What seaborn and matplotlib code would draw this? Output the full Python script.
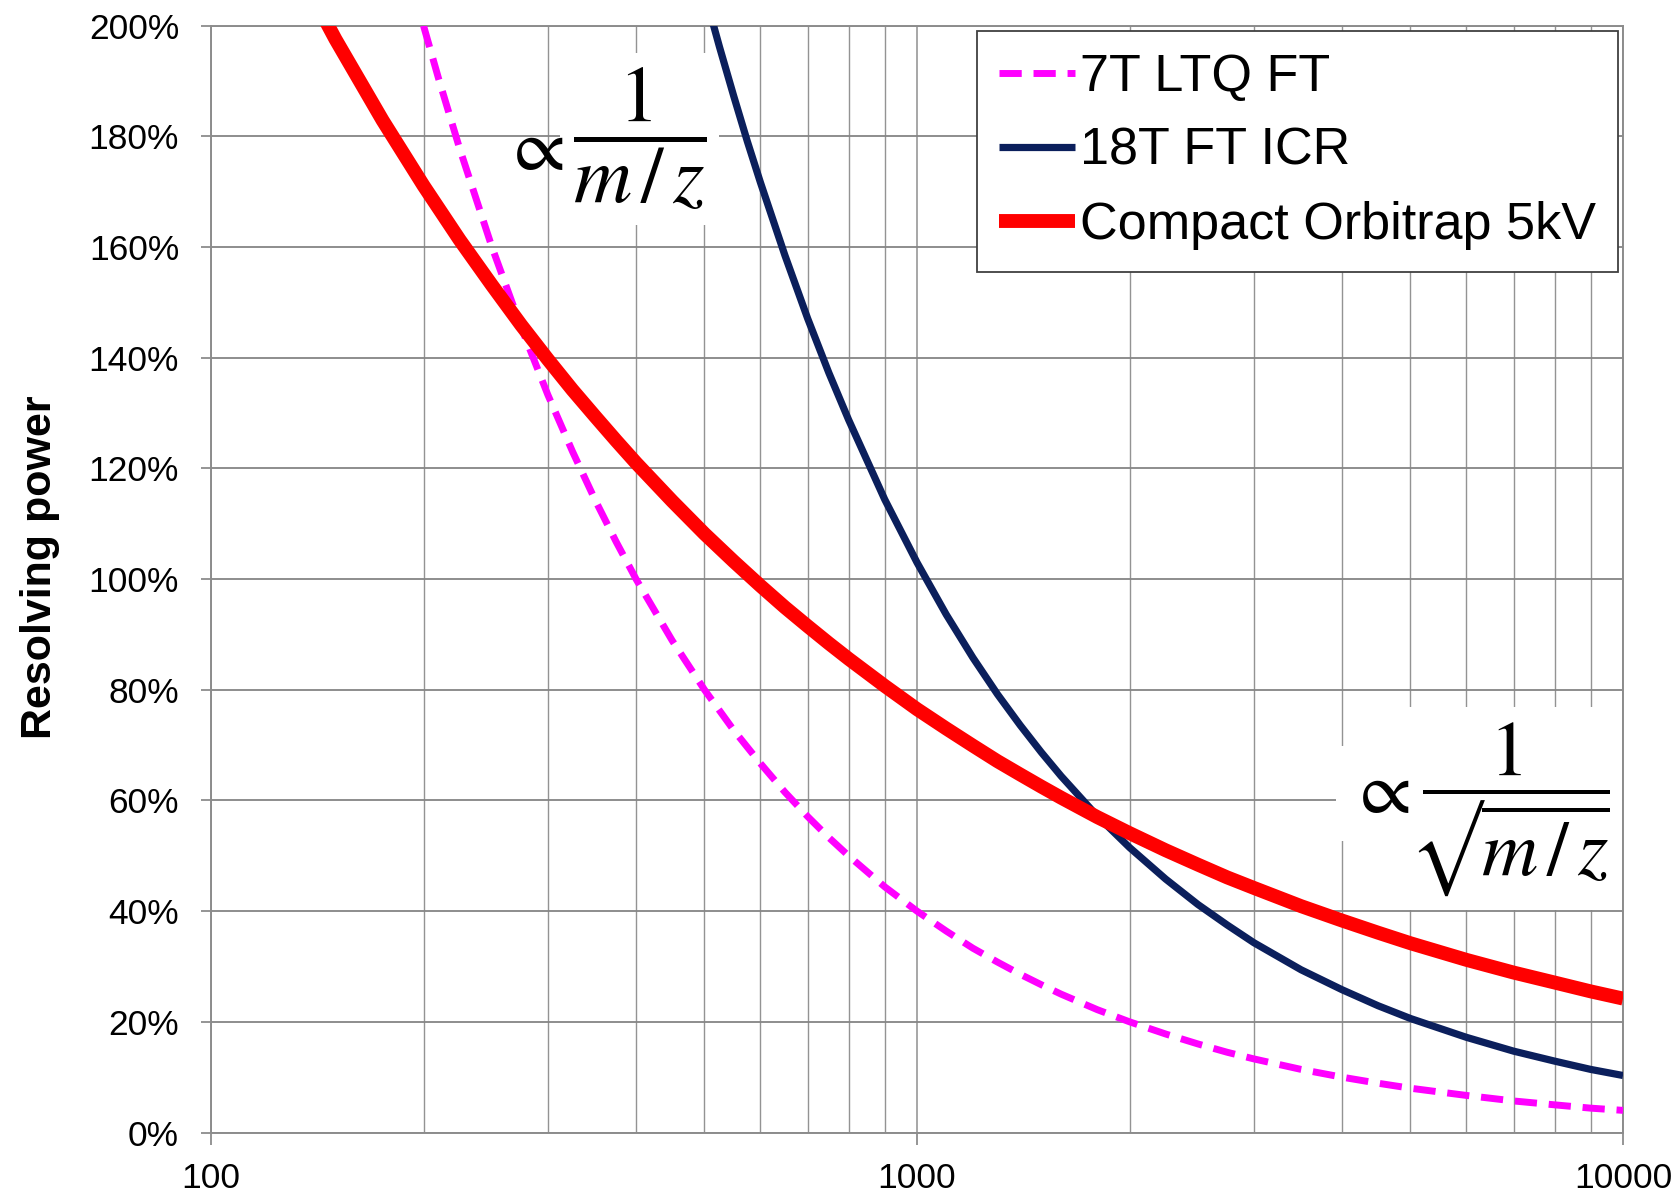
import numpy as np
import pandas as pd
import matplotlib
matplotlib.use('Agg')
import matplotlib.pyplot as plt
import seaborn as sns
from matplotlib.ticker import FixedLocator, FuncFormatter, NullFormatter

# Valeurs (m/z, pouvoir de résolution en %)
mz_7t = [200, 210, 225, 250, 275, 300, 325, 350, 375, 400, 450, 500, 550, 600, 650, 700, 750,
         800, 900, 1000, 1100, 1200, 1300, 1400, 1500, 1600, 1800, 2000, 2250, 2500, 2750,
         3000, 3500, 4000, 4500, 5000, 6000, 7000, 8000, 9000, 10000]
rp_7t = [200, 190.5, 177.8, 160, 145.5, 133.3, 123.1, 114.3, 106.7, 100, 88.9, 80, 72.7, 66.7,
         61.5, 57.1, 53.3, 50, 44.4, 40, 36.4, 33.3, 30.8, 28.6, 26.7, 25, 22.2, 20, 17.8, 16,
         14.5, 13.3, 11.4, 10, 8.9, 8, 6.7, 5.7, 5, 4.4, 4]

mz_18t = [500, 525, 550, 575, 600, 650, 700, 750, 800, 900, 1000, 1100, 1200, 1300, 1400,
          1500, 1600, 1800, 2000, 2250, 2500, 2750, 3000, 3500, 4000, 4500, 5000, 6000, 7000,
          8000, 9000, 10000]
rp_18t = [206, 196.2, 187.3, 179.1, 171.7, 158.5, 147.1, 137.3, 128.8, 114.4, 103, 93.6, 85.8,
          79.2, 73.6, 68.7, 64.4, 57.2, 51.5, 45.8, 41.2, 37.5, 34.3, 29.4, 25.8, 22.9, 20.6,
          17.2, 14.7, 12.9, 11.4, 10.3]

mz_orbi = [125, 150, 175, 200, 225, 250, 275, 300, 325, 350, 375, 400, 450, 500, 550, 600,
           650, 700, 750, 800, 900, 1000, 1100, 1200, 1300, 1400, 1500, 1600, 1800, 2000,
           2250, 2500, 2750, 3000, 3500, 4000, 4500, 5000, 6000, 7000, 8000, 9000, 10000]
rp_orbi = [216.5, 197.6, 182.9, 171.1, 161.3, 153.1, 145.9, 139.7, 134.2, 129.4, 125, 121,
           114.1, 108.2, 103.2, 98.8, 94.9, 91.5, 88.4, 85.6, 80.7, 76.5, 73, 69.9, 67.1, 64.7,
           62.5, 60.5, 57, 54.1, 51, 48.4, 46.1, 44.2, 40.9, 38.3, 36.1, 34.2, 31.2, 28.9,
           27.1, 25.5, 24.2]

labels = ['7T LTQ FT', '18T FT ICR', 'Compact Orbitrap 5kV']
x_ticks = [100, 1000, 10000]
y_ticks = [0, 20, 40, 60, 80, 100, 120, 140, 160, 180, 200]

sns.set_theme(style='white')
plt.rcParams['font.family'] = ['Liberation Sans', 'DejaVu Sans']
plt.rcParams['mathtext.fontset'] = 'stix'

fig = plt.figure(figsize=(16.8, 11.98), dpi=100)
ax = fig.add_axes([211 / 1680, (1198 - 1132.5) / 1198, (1623 - 211) / 1680, (1132.5 - 25.7) / 1198])

sns.lineplot(x=mz_7t, y=rp_7t, ax=ax, color='#ff00ff', linewidth=5,
             linestyle=(0, (3.2, 1.7)), label=labels[0], zorder=5)
sns.lineplot(x=mz_18t, y=rp_18t, ax=ax, color='#0b1f5c', linewidth=5.2,
             label=labels[1], zorder=5)
sns.lineplot(x=mz_orbi, y=rp_orbi, ax=ax, color='#ff0000', linewidth=10,
             label=labels[2], zorder=6)
for ln in ax.lines:
    ln.set_solid_capstyle('butt')

ax.set_xscale('log')
ax.set_xlim(100, 10000)
ax.set_ylim(0, 200)

ax.xaxis.set_major_locator(FixedLocator(x_ticks))
ax.xaxis.set_major_formatter(FuncFormatter(lambda v, p: f'{v:.0f}'))
ax.xaxis.set_minor_locator(FixedLocator([m * d for d in (100, 1000) for m in range(2, 10)]))
ax.xaxis.set_minor_formatter(NullFormatter())
ax.yaxis.set_major_locator(FixedLocator(y_ticks))
ax.yaxis.set_major_formatter(FuncFormatter(lambda v, p: f'{v:.0f}%'))

ax.tick_params(axis='x', which='major', direction='out', length=8.6, width=1.3,
               color='#8c8c8c', pad=13, labelsize=25.5, labelcolor='black', bottom=True)
ax.tick_params(axis='x', which='minor', length=0)
ax.tick_params(axis='y', direction='out', length=7, width=1.3, color='#8c8c8c',
               pad=16, labelsize=25.5, labelcolor='black', left=True)

ax.grid(True, axis='y', color='#858585', lw=1.3)
ax.grid(True, axis='x', which='major', color='#8f8f8f', lw=1.1)
ax.grid(True, axis='x', which='minor', color='#939393', lw=1.0)
ax.set_axisbelow(True)
for s in ax.spines.values():
    s.set_color('#8c8c8c')
    s.set_linewidth(1.4)

ax.set_xlabel('')
ax.set_ylabel('Resolving power', fontsize=31, fontweight='bold', color='black')
ax.yaxis.set_label_coords(-0.107, 0.511)

# annotations des lois en 1/(m/z) et 1/sqrt(m/z)
box = dict(facecolor='white', edgecolor='none', pad=9)
ax.text(405, 179.5, r'$\dfrac{1}{m\,/\,z}$', fontsize=58, ha='center', va='center',
        color='black', bbox=box, zorder=4)
ax.text(286, 177.5, r'$\propto$', fontsize=54, ha='center', va='center', color='black',
        zorder=4.5)
ax.text(6900, 58.5, r'$\dfrac{1}{√\overline{m\,/\,z}}$', fontsize=56, ha='center',
        va='center', color='black', bbox=box, zorder=4)
ax.text(4520, 61.3, r'$\propto$', fontsize=54, ha='center', va='center', color='black',
        bbox=box, zorder=4.5)

leg = ax.legend(loc='upper right', bbox_to_anchor=(1, 1), borderaxespad=0.1, fontsize=37.5,
                frameon=True, fancybox=False, edgecolor='#404040', framealpha=1,
                handlelength=1.45, handletextpad=0.1, labelspacing=0.48, borderpad=0.42)
leg.get_frame().set_linewidth(1.3)
leg.set_zorder(10)
for t in leg.get_texts():
    t.set_color('black')

fig.savefig('out.png', dpi=100)
